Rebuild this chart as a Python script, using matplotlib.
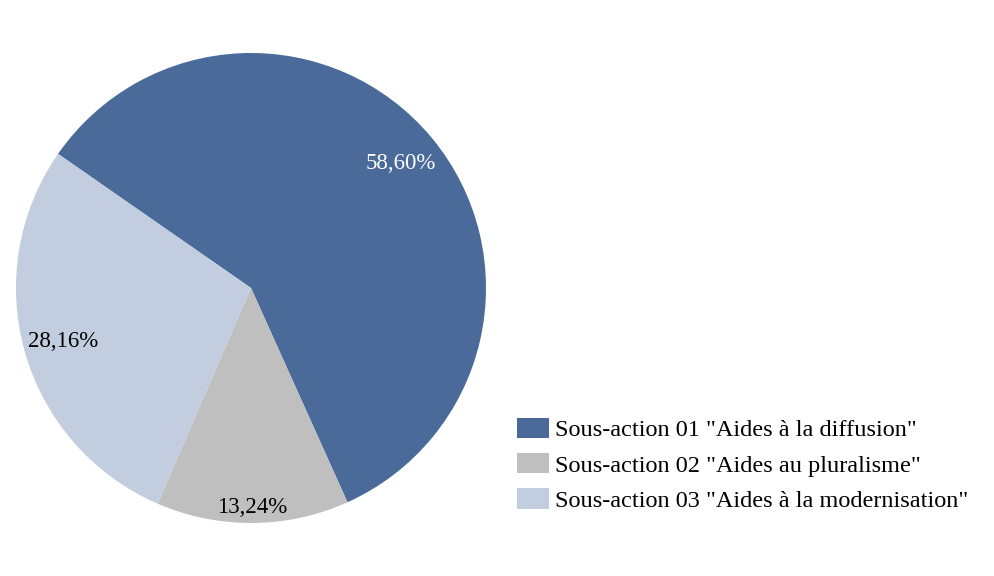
import matplotlib
matplotlib.use("Agg")
import matplotlib.pyplot as plt
import numpy as np

labels = ['Sous-action 01 "Aides à la diffusion"',
          'Sous-action 02 "Aides au pluralisme"',
          'Sous-action 03 "Aides à la modernisation"']
values = [58.60, 13.24, 28.16]
colors = ['#4A6A9A', '#BFBFBF', '#C2CDE0']
text_colors = ['white', 'black', 'black']

plt.rcParams['font.family'] = ['Liberation Serif', 'DejaVu Serif']

fig = plt.figure(figsize=(9.95, 5.76), dpi=100)
ax = fig.add_axes([16/995, 53/576, 470/995, 470/576])

wedges, texts, autotexts = ax.pie(values, colors=colors, startangle=145.2,
                                  counterclock=False, autopct=lambda p: f"{p:.2f}%".replace('.', ','),
                                  pctdistance=0.83, wedgeprops=dict(linewidth=0))
for t, c in zip(autotexts, text_colors):
    t.set_color(c)
    t.set_fontsize(16.5)
# push the small slice's label a little further out
x, y = autotexts[1].get_position()
autotexts[1].set_position((x * 0.935 / 0.83, y * 0.935 / 0.83))
ax.set_aspect('equal')
ax.set_xlim(-1, 1)
ax.set_ylim(-1, 1)

fig.legend(wedges, labels, loc='upper left', bbox_to_anchor=(507/995, 1 - 408/576),
           frameon=False, fontsize=17.5, handlelength=1.32, handleheight=0.92,
           handletextpad=0.25, labelspacing=0.48, borderaxespad=0)

fig.savefig('out.png', dpi=100)
